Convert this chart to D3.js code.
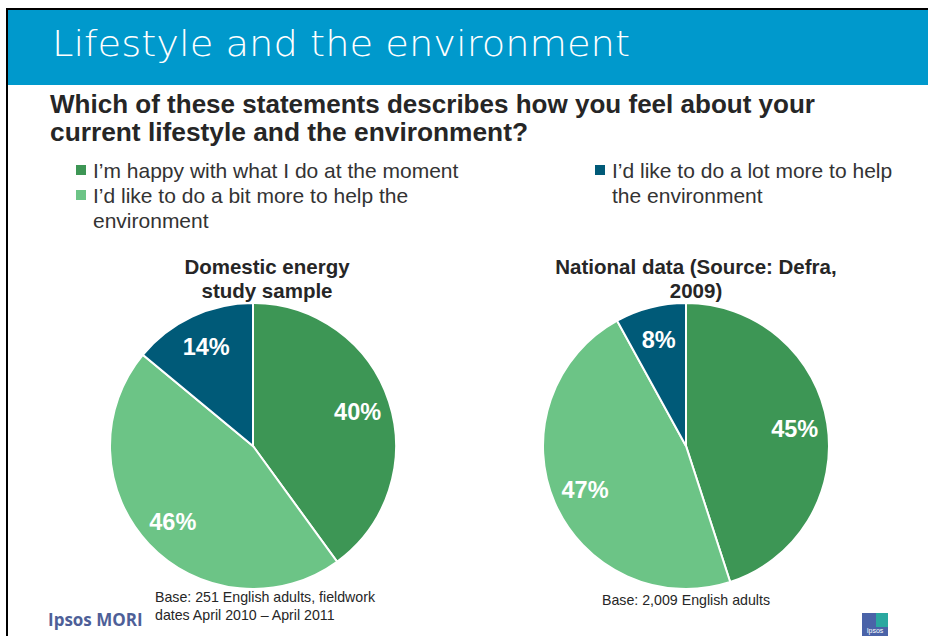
<!DOCTYPE html>
<html><head><meta charset="utf-8">
<script src="https://cdn.jsdelivr.net/npm/d3@7"></script>
<style>body{margin:0;background:#fff}svg{display:block}</style>
</head><body>
<script>
const categories = ["I’m happy with what I do at the moment", "I’d like to do a bit more to help the environment", "I’d like to do a lot more to help the environment"];
const domesticValues = [40, 46, 14];
const nationalValues = [45, 47, 8];
const colors = ["#3d9655", "#6cc486", "#005a78"];
const pieTitles = [["Domestic energy", "study sample"], ["National data (Source: Defra,", "2009)"]];
const baseNotes = [["Base: 251 English adults, fieldwork", "dates April 2010 – April 2011"], ["Base: 2,009 English adults"]];

const W = 928, H = 636;
const svg = d3.select("body").append("svg").attr("width", W).attr("height", H);
const F = "Liberation Sans, Arial, sans-serif";

// header
svg.append("rect").attr("x", 6).attr("y", 8).attr("width", W - 6).attr("height", 2).attr("fill", "#000");
svg.append("rect").attr("x", 6).attr("y", 8).attr("width", 2).attr("height", H - 8).attr("fill", "#000");
svg.append("rect").attr("x", 8).attr("y", 10).attr("width", W - 8).attr("height", 75).attr("fill", "#0099cc");
svg.append("text").attr("x", 52).attr("y", 56).attr("fill", "#fff")
  .attr("font-family", "DejaVu Sans, Verdana, sans-serif").attr("font-weight", 200)
  .attr("font-size", 35).attr("textLength", 578).attr("lengthAdjust", "spacingAndGlyphs")
  .text("Lifestyle and the environment");

// question
const q = svg.append("text").attr("font-family", F).attr("font-weight", "bold").attr("font-size", 26).attr("fill", "#262626");
q.append("tspan").attr("x", 50).attr("y", 113).attr("textLength", 765).attr("lengthAdjust", "spacingAndGlyphs")
  .text("Which of these statements describes how you feel about your");
q.append("tspan").attr("x", 50).attr("y", 141).attr("textLength", 478).attr("lengthAdjust", "spacingAndGlyphs")
  .text("current lifestyle and the environment?");

// legend
const legendItems = [
  {i: 0, x: 76, y: 178, lines: ["I’m happy with what I do at the moment"]},
  {i: 1, x: 76, y: 203, lines: ["I’d like to do a bit more to help the", "environment"]},
  {i: 2, x: 595, y: 178, lines: ["I’d like to do a lot more to help", "the environment"]}
];
legendItems.forEach(d => {
  svg.append("rect").attr("x", d.x).attr("y", d.y - 13).attr("width", 10).attr("height", 10).attr("fill", colors[d.i]);
  const t = svg.append("text").attr("font-family", F).attr("font-size", 21).attr("fill", "#333");
  d.lines.forEach((l, k) => t.append("tspan").attr("x", d.x + 17).attr("y", d.y + k * 25).text(l));
});

// pies
const pie = d3.pie().sort(null).value(d => d);
const r = 143;
const arc = d3.arc().innerRadius(0).outerRadius(r);
const labelArc = d3.arc().innerRadius(110).outerRadius(110);
const pies = [
  {vals: domesticValues, cx: 253, cy: 446, tx: 267},
  {vals: nationalValues, cx: 686, cy: 446, tx: 696}
];
pies.forEach((p, pi) => {
  const g = svg.append("g").attr("transform", `translate(${p.cx},${p.cy})`);
  const arcs = pie(p.vals);
  g.selectAll("path").data(arcs).join("path").attr("d", arc)
    .attr("fill", (d, i) => colors[i]).attr("stroke", "#fff").attr("stroke-width", 2);
  g.selectAll("text").data(arcs).join("text")
    .attr("transform", d => `translate(${labelArc.centroid(d)})`)
    .attr("text-anchor", "middle").attr("dy", "0.36em")
    .attr("font-family", F).attr("font-weight", "bold").attr("font-size", 23.5).attr("fill", "#fff")
    .text(d => d.data + "%");
  const t = svg.append("text").attr("font-family", F).attr("font-weight", "bold").attr("font-size", 20.5)
    .attr("fill", "#262626").attr("text-anchor", "middle");
  pieTitles[pi].forEach((l, k) => t.append("tspan").attr("x", p.tx).attr("y", 274 + k * 24).text(l));
});

// base notes
const bn1 = svg.append("text").attr("font-family", F).attr("font-size", 14.2).attr("fill", "#262626");
baseNotes[0].forEach((l, k) => bn1.append("tspan").attr("x", 155).attr("y", 602 + k * 18).text(l));
svg.append("text").attr("font-family", F).attr("font-size", 14.2).attr("fill", "#262626")
  .attr("x", 602).attr("y", 605).text(baseNotes[1][0]);

// logos
svg.append("text").attr("x", 48).attr("y", 626).attr("font-family", "Open Sans, sans-serif").attr("font-weight", "bold")
  .attr("font-size", 17).attr("fill", "#4e5f98").text("Ipsos MORI");
svg.append("rect").attr("x", 862).attr("y", 613).attr("width", 26).attr("height", 23).attr("fill", "#4a63a8");
svg.append("rect").attr("x", 876).attr("y", 613).attr("width", 12).attr("height", 14).attr("fill", "#2aa8a0");
svg.append("text").attr("x", 875).attr("y", 633).attr("text-anchor", "middle").attr("font-family", F)
  .attr("font-size", 7).attr("fill", "#fff").text("Ipsos");
</script>
</body></html>
